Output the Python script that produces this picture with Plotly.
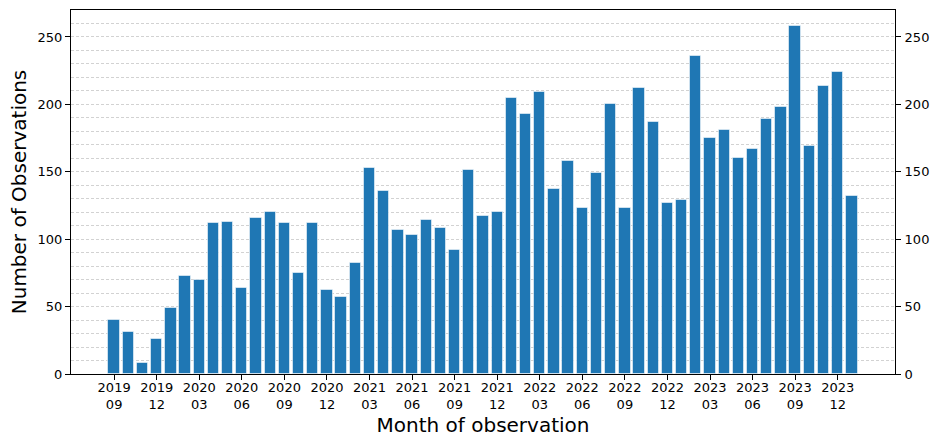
import plotly.graph_objects as go

# Monthly observation counts, Sep 2019 – Jan 2024
months = [
    "2019-09", "2019-10", "2019-11", "2019-12",
    "2020-01", "2020-02", "2020-03", "2020-04", "2020-05", "2020-06",
    "2020-07", "2020-08", "2020-09", "2020-10", "2020-11", "2020-12",
    "2021-01", "2021-02", "2021-03", "2021-04", "2021-05", "2021-06",
    "2021-07", "2021-08", "2021-09", "2021-10", "2021-11", "2021-12",
    "2022-01", "2022-02", "2022-03", "2022-04", "2022-05", "2022-06",
    "2022-07", "2022-08", "2022-09", "2022-10", "2022-11", "2022-12",
    "2023-01", "2023-02", "2023-03", "2023-04", "2023-05", "2023-06",
    "2023-07", "2023-08", "2023-09", "2023-10", "2023-11", "2023-12",
    "2024-01",
]
counts = [
    40, 31, 8, 26,
    49, 73, 70, 112, 113, 64, 116, 120, 112, 75, 112, 62,
    57, 82, 153, 136, 107, 103, 114, 108, 92, 151, 117, 120,
    205, 193, 209, 137, 158, 123, 149, 200, 123, 212, 187, 127,
    129, 236, 175, 181, 160, 167, 189, 198, 258, 169, 214, 224,
    132,
]

# Label every third month as "YYYY<br>MM"
tick_idx = [i for i, m in enumerate(months) if int(m[5:]) % 3 == 0]
tick_text = [months[i][:4] + "<br>" + months[i][5:] for i in tick_idx]

x_idx = list(range(len(months)))
y_range = [0, 270]
font_family = "DejaVu Sans"

fig = go.Figure()
fig.add_trace(go.Bar(
    x=x_idx, y=counts, width=0.8,
    marker=dict(color="#1f77b4", line=dict(color="rgba(255,255,255,0.55)", width=1)),
    customdata=months,
    hovertemplate="%{customdata}: %{y}<extra></extra>",
))
# invisible trace to attach the mirrored right-hand axis
fig.add_trace(go.Scatter(x=[x_idx[0]], y=[0], yaxis="y2", mode="markers",
                         marker=dict(opacity=0), showlegend=False, hoverinfo="skip"))

grid = dict(showgrid=True, gridcolor="#d2d2d2", griddash="3px,2px", gridwidth=0.8)

fig.update_layout(
    width=931, height=437,
    margin=dict(l=71, r=36, t=10, b=63, autoexpand=False),
    plot_bgcolor="white", paper_bgcolor="white",
    showlegend=False, bargap=0,
    font=dict(family=font_family, size=13, color="black"),
    xaxis=dict(
        range=[-3.04, 55.04], automargin=False,
        tickvals=tick_idx, ticktext=tick_text,
        ticks="outside", ticklen=5, tickwidth=1, tickcolor="black",
        ticklabelstandoff=-4,
        showline=True, linecolor="black", linewidth=1, mirror=True,
        showgrid=False, zeroline=False,
        title=dict(text="Month of observation", font=dict(size=20), standoff=12),
    ),
    yaxis=dict(
        range=y_range, dtick=50, tick0=0, automargin=False,
        ticks="outside", ticklen=5, tickwidth=1, tickcolor="black",
        showline=True, linecolor="black", linewidth=1, mirror=True,
        zeroline=False,
        minor=dict(dtick=10, ticks="", **grid),
        title=dict(text="Number of Observations", font=dict(size=20), standoff=5),
        **grid,
    ),
    yaxis2=dict(
        range=y_range, dtick=50, tick0=0, overlaying="y", side="right",
        automargin=False,
        ticks="outside", ticklen=5, tickwidth=1, tickcolor="black",
        ticklabelstandoff=1,
        showgrid=False, zeroline=False, showline=False,
    ),
)

fig.write_html("out.html")
